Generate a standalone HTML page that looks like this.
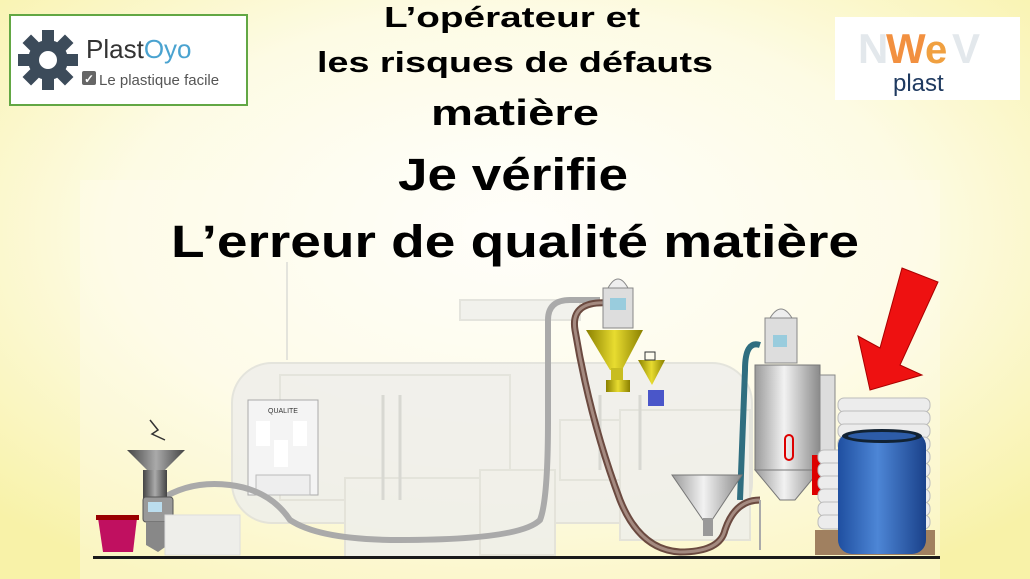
<!DOCTYPE html>
<html><head><meta charset="utf-8"><style>
html,body{margin:0;padding:0;width:1030px;height:579px;overflow:hidden}
svg{display:block}
text{font-family:"Liberation Sans",sans-serif}
</style></head><body>
<svg width="1030" height="579" viewBox="0 0 1030 579" xmlns="http://www.w3.org/2000/svg">
<defs>
<radialGradient id="bg" cx="50%" cy="40%" r="70%">
<stop offset="0" stop-color="#ffffff"/><stop offset="0.55" stop-color="#fdfbe4"/><stop offset="1" stop-color="#f8f2a8"/>
</radialGradient>
<linearGradient id="silver" x1="0" x2="1"><stop offset="0" stop-color="#9a9a9a"/><stop offset="0.45" stop-color="#f2f2f2"/><stop offset="1" stop-color="#8a8a8a"/></linearGradient>
<linearGradient id="blue" x1="0" x2="1"><stop offset="0" stop-color="#1f4fa0"/><stop offset="0.45" stop-color="#4d86d6"/><stop offset="1" stop-color="#1a418a"/></linearGradient>
<linearGradient id="yel" x1="0" x2="1"><stop offset="0" stop-color="#8a8000"/><stop offset="0.5" stop-color="#e8dc30"/><stop offset="1" stop-color="#8a8000"/></linearGradient>
<linearGradient id="gray" x1="0" x2="1"><stop offset="0" stop-color="#444"/><stop offset="0.5" stop-color="#aaa"/><stop offset="1" stop-color="#444"/></linearGradient>
</defs>
<rect width="1030" height="579" fill="url(#bg)"/>
<rect x="80" y="180" width="860" height="399" fill="#fefdf0" opacity="0.35"/>

<!-- logo left -->
<rect x="10" y="15" width="237" height="90" fill="#fff" stroke="#62a744" stroke-width="2"/>
<g transform="translate(48,60)" fill="#3c4b5a">
<circle r="20"/>
<g><rect x="-6" y="-30" width="12" height="60"/><rect x="-30" y="-6" width="60" height="12"/>
<rect x="-6" y="-30" width="12" height="60" transform="rotate(45)"/><rect x="-6" y="-30" width="12" height="60" transform="rotate(-45)"/></g>
<circle r="9" fill="#fff"/>
</g>
<text x="86" y="58" font-size="26" fill="#333">Plast<tspan fill="#4aa3d0">Oyo</tspan></text>
<rect x="82" y="71" width="14" height="14" rx="2" fill="#666"/>
<text x="84" y="83" font-size="12" fill="#fff" font-weight="bold">✓</text>
<text x="99" y="85" font-size="15" fill="#555">Le plastique facile</text>

<!-- logo right -->
<rect x="835" y="17" width="185" height="83" fill="#fff"/>
<text x="858" y="63" font-size="42" font-weight="bold" fill="#e3e8ec">N</text>
<text x="886" y="63" font-size="42" font-weight="bold" fill="#f29040">W</text>
<text x="925" y="63" font-size="40" font-weight="bold" fill="#f0a040">e</text>
<text x="952" y="63" font-size="42" font-weight="bold" fill="#e3e8ec">V</text>
<text x="893" y="91" font-size="24" fill="#1f3a60">plast</text>

<!-- titles -->
<g font-weight="bold" fill="#000" text-anchor="middle">
<text x="512" y="27" font-size="29" textLength="256" lengthAdjust="spacingAndGlyphs">L’opérateur et</text>
<text x="515" y="72" font-size="29" textLength="396" lengthAdjust="spacingAndGlyphs">les risques de défauts</text>
<text x="515" y="125" font-size="36" textLength="168" lengthAdjust="spacingAndGlyphs">matière</text>
<text x="513" y="190" font-size="45" textLength="230" lengthAdjust="spacingAndGlyphs">Je vérifie</text>
<text x="515" y="257" font-size="45" textLength="688" lengthAdjust="spacingAndGlyphs">L’erreur de qualité matière</text>
</g>

<!-- ghost machine -->
<g fill="#efefeb" stroke="#e0e0da" stroke-width="2" opacity="0.85">
<rect x="232" y="363" width="520" height="160" rx="40"/>
<rect x="280" y="375" width="230" height="125"/>
<rect x="345" y="478" width="150" height="80"/>
<rect x="480" y="470" width="75" height="85"/>
<rect x="560" y="420" width="60" height="60"/>
<rect x="620" y="410" width="130" height="130"/>
<rect x="460" y="300" width="120" height="20"/>
<line x1="287" y1="262" x2="287" y2="360"/>
</g>
<g fill="none" stroke="#d8d8d2" stroke-width="3">
<line x1="383" y1="395" x2="383" y2="500"/><line x1="400" y1="395" x2="400" y2="500"/>
<line x1="600" y1="395" x2="600" y2="470"/><line x1="640" y1="395" x2="640" y2="470"/>
</g>
<!-- QUALITE cabinet -->
<rect x="248" y="400" width="70" height="95" fill="#f4f4f4" stroke="#aaa"/>
<text x="283" y="413" font-size="7" text-anchor="middle" fill="#333">QUALITE</text>
<rect x="256" y="421" width="14" height="25" fill="#fff"/><rect x="293" y="421" width="14" height="25" fill="#fff"/><rect x="274" y="440" width="14" height="27" fill="#fff"/>
<rect x="256" y="475" width="54" height="20" fill="#eee" stroke="#bbb"/>

<!-- gray pipe -->
<path d="M160 500 Q190 480 230 485 Q270 490 290 520 Q320 540 400 540 Q520 540 540 520 Q548 500 548 420 L548 320 Q548 300 570 300 L600 300" fill="none" stroke="#aaa" stroke-width="6"/>
<!-- brown pipe -->
<path d="M610 303 Q570 300 575 330 Q590 420 620 500 Q640 550 680 552 Q720 552 725 530 Q735 500 760 500" fill="none" stroke="#6b4a40" stroke-width="7"/>
<path d="M610 303 Q570 300 575 330 Q590 420 620 500 Q640 550 680 552 Q720 552 725 530 Q735 500 760 500" fill="none" stroke="#a48a80" stroke-width="3"/>
<!-- teal pipe -->
<path d="M760 345 Q745 340 745 370 L740 500" fill="none" stroke="#2f6e80" stroke-width="6"/>

<!-- granulator -->
<path d="M127 450 L185 450 L165 470 L147 470 Z" fill="url(#gray)"/>
<rect x="143" y="470" width="24" height="35" fill="url(#gray)"/>
<rect x="143" y="497" width="30" height="25" rx="3" fill="#999" stroke="#555"/>
<rect x="148" y="502" width="14" height="10" fill="#bde"/>
<path d="M146 522 L172 522 L168 545 L158 552 L146 545 Z" fill="#888"/>
<path d="M150 420 L158 430 L152 434 L165 440" fill="none" stroke="#333" stroke-width="1.5"/>
<!-- red bin -->
<path d="M98 518 L137 518 L133 552 L103 552 Z" fill="#c01060"/>
<rect x="96" y="515" width="43" height="5" fill="#900"/>
<rect x="165" y="515" width="75" height="40" fill="#eeeeea" stroke="#ddd"/>

<!-- yellow hopper loader -->
<rect x="603" y="288" width="30" height="40" fill="#ddd" stroke="#888"/>
<path d="M608 288 Q618 270 628 288 Z" fill="#eee" stroke="#888"/>
<rect x="610" y="298" width="16" height="12" fill="#9cd"/>
<path d="M586 330 L643 330 L622 370 L610 370 Z" fill="url(#yel)"/>
<rect x="611" y="368" width="12" height="12" fill="#c8bd20"/>
<rect x="606" y="380" width="24" height="12" fill="url(#yel)"/>
<path d="M638 360 L665 360 L652 385 Z" fill="url(#yel)"/>
<rect x="645" y="352" width="10" height="8" fill="none" stroke="#333"/>
<rect x="648" y="390" width="16" height="16" fill="#2030c0" opacity="0.8"/>

<!-- dryer -->
<rect x="765" y="318" width="32" height="45" fill="#ddd" stroke="#888"/>
<path d="M770 318 Q781 300 792 318 Z" fill="#eee" stroke="#888"/>
<rect x="773" y="335" width="14" height="12" fill="#9cd"/>
<rect x="755" y="365" width="65" height="105" fill="url(#silver)" stroke="#777"/>
<path d="M755 470 L820 470 L795 500 L780 500 Z" fill="url(#silver)" stroke="#777"/>
<rect x="785" y="435" width="8" height="25" rx="4" fill="none" stroke="#d00" stroke-width="2"/>
<rect x="820" y="375" width="15" height="80" fill="#ddd" stroke="#888"/>
<rect x="812" y="455" width="10" height="40" fill="#d00"/>
<!-- small funnel -->
<path d="M672 475 L742 475 L712 520 L703 520 Z" fill="url(#silver)" stroke="#777"/>
<rect x="703" y="518" width="10" height="18" fill="#999"/>
<line x1="760" y1="500" x2="760" y2="550" stroke="#aaa" stroke-width="2"/>

<!-- bag stack -->
<g fill="#ececec" stroke="#bbb">
<rect x="838" y="398" width="92" height="14" rx="6"/><rect x="838" y="411" width="92" height="14" rx="6"/>
<rect x="838" y="424" width="92" height="14" rx="6"/><rect x="838" y="437" width="92" height="14" rx="6"/>
<rect x="818" y="450" width="112" height="14" rx="6"/><rect x="818" y="463" width="112" height="14" rx="6"/>
<rect x="818" y="476" width="112" height="14" rx="6"/><rect x="818" y="489" width="112" height="14" rx="6"/>
<rect x="818" y="502" width="112" height="14" rx="6"/><rect x="818" y="515" width="112" height="14" rx="6"/>
</g>
<rect x="815" y="530" width="120" height="25" fill="#a08060"/>
<!-- barrel -->
<rect x="838" y="432" width="88" height="122" rx="14" fill="url(#blue)"/>
<ellipse cx="882" cy="436" rx="40" ry="7" fill="#123"/>
<ellipse cx="882" cy="436" rx="34" ry="4" fill="#2d5ca8"/>

<!-- red arrow -->
<polygon points="902,268 938,282 900,365 922,375 870,390 858,336 880,348" fill="#ee1111" stroke="#a00" stroke-width="1"/>

<!-- ground -->
<rect x="93" y="556" width="847" height="3" fill="#1a1a1a"/>
</svg>
</body></html>
